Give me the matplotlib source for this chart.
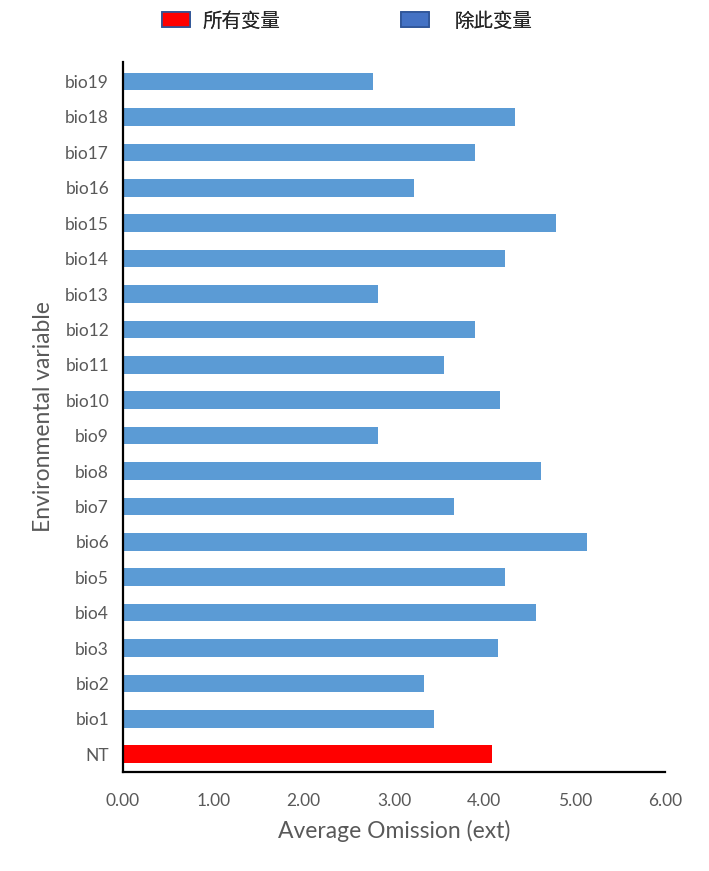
import matplotlib.pyplot as plt
from matplotlib.patches import Patch

# 变量和数值
labels = ['NT', 'bio1', 'bio2', 'bio3', 'bio4', 'bio5', 'bio6', 'bio7', 'bio8', 'bio9',
          'bio10', 'bio11', 'bio12', 'bio13', 'bio14', 'bio15', 'bio16', 'bio17', 'bio18', 'bio19']
values = [4.08, 3.44, 3.33, 4.15, 4.57, 4.23, 5.14, 3.66, 4.63, 2.82,
          4.17, 3.55, 3.90, 2.82, 4.23, 4.79, 3.22, 3.90, 4.34, 2.77]
xticks = [0, 1, 2, 3, 4, 5, 6]
legend_names = ['所有变量', '除此变量']

plt.rcParams['font.family'] = ['Lato', 'Noto Sans CJK SC', 'DejaVu Sans']
grey = '#595959'

fig = plt.figure(figsize=(7.09, 8.71), dpi=100)
ax = fig.add_axes([0.1735, 0.1137, 0.7645, 0.815])

colors = ['#FF0000'] + ['#5B9BD5'] * (len(labels) - 1)
ax.barh(range(len(labels)), values, height=0.5, color=colors)

ax.set_xlim(0, 6)
ax.set_ylim(-0.5, 19.55)
ax.set_xticks(xticks)
ax.set_xticklabels(['%.2f' % t for t in xticks])
ax.set_yticks(range(len(labels)))
ax.set_yticklabels(labels)
ax.tick_params(length=0, labelsize=12.5, colors=grey, pad=10)
ax.tick_params(axis='x', pad=15)

for s in ['top', 'right']:
    ax.spines[s].set_visible(False)
for s in ['left', 'bottom']:
    ax.spines[s].set_linewidth(1.6)
    ax.spines[s].set_color('black')

ax.set_xlabel('Average Omission (ext)', fontsize=16.5, color=grey, labelpad=8)
ax.set_ylabel('Environmental variable', fontsize=16.5, color=grey, labelpad=8)

# 图例：两个分开放，间距和原图一致
edge = '#2F5597'
leg_specs = [('#FF0000', legend_names[0], 162 / 709, 0.65),
             ('#4472C4', legend_names[1], 401 / 709, 1.3)]
for fc, name, x0, tpad in leg_specs:
    lg = fig.legend([Patch(facecolor=fc, edgecolor=edge, linewidth=1.2)], [name],
                    loc='center left', bbox_to_anchor=(x0, 1 - 21 / 871),
                    frameon=False, borderpad=0, borderaxespad=0,
                    handlelength=1.45, handleheight=0.8, handletextpad=tpad,
                    prop={'family': ['Noto Sans CJK SC'], 'size': 14})
    lg.get_texts()[0].set_color('#262626')
    fig.add_artist(lg)

plt.savefig('out.png', dpi=100)
